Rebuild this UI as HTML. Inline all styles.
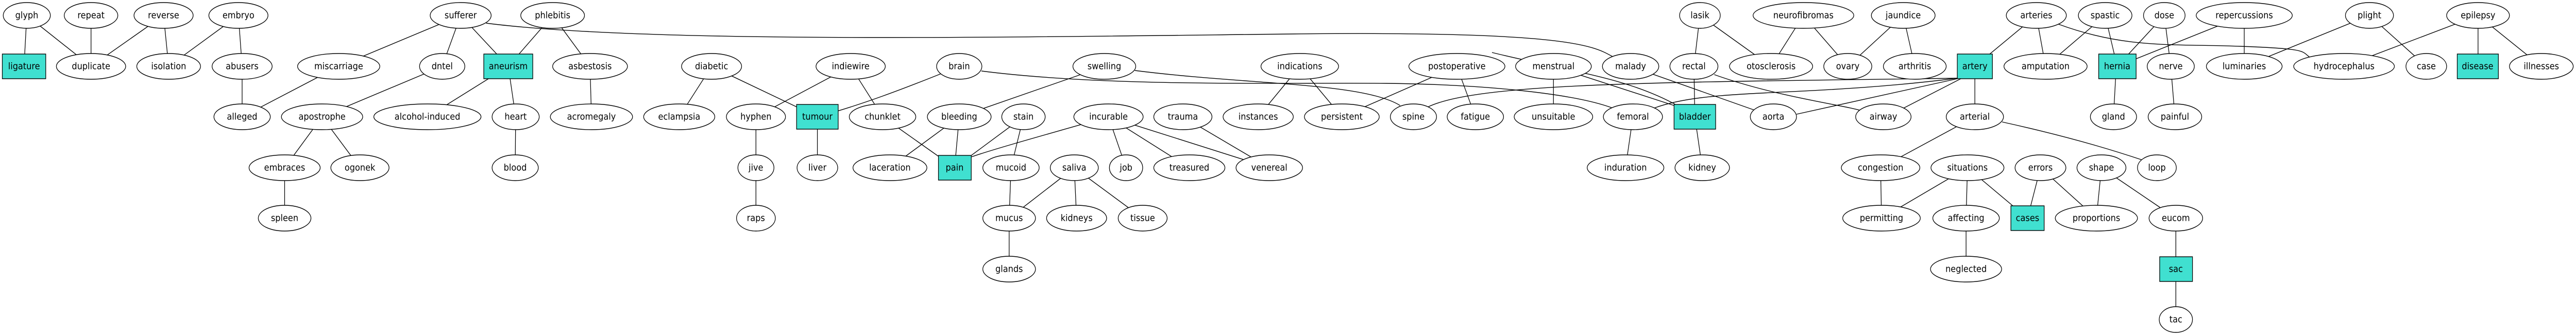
<!DOCTYPE html>
<html><head><meta charset="utf-8"><style>
html,body{margin:0;padding:0;background:#fff;width:100%;height:100%;overflow:hidden;}
svg{display:block;width:100vw;height:100vh;}
text{font-family:"DejaVu Sans","Liberation Sans",sans-serif;font-size:18px;text-anchor:middle;dominant-baseline:central;fill:#000;}
.e{stroke:#000;stroke-width:1.4;fill:none;}
ellipse{fill:#fff;stroke:#000;stroke-width:1.4;}
rect{fill:#40e0d0;stroke:#000;stroke-width:1.4;}
</style></head><body>
<svg viewBox="0 0 5575 653" preserveAspectRatio="none" xmlns="http://www.w3.org/2000/svg">
<g class="e">
<line x1="58" y1="30" x2="52" y2="129"/>
<line x1="58" y1="30" x2="197" y2="129"/>
<line x1="197" y1="30" x2="197" y2="129"/>
<line x1="354" y1="30" x2="197" y2="129"/>
<line x1="354" y1="30" x2="365" y2="129"/>
<line x1="516" y1="30" x2="365" y2="129"/>
<line x1="516" y1="30" x2="524" y2="129"/>
<line x1="524" y1="129" x2="524" y2="227"/>
<line x1="733" y1="129" x2="524" y2="227"/>
<line x1="997" y1="30" x2="733" y2="129"/>
<line x1="997" y1="30" x2="957" y2="129"/>
<line x1="997" y1="30" x2="1100" y2="129"/>
<path d="M1052,45 C1400,85 2200,72 2800,66 S3450,90 3490,110"/>
<line x1="957" y1="129" x2="697" y2="227"/>
<line x1="697" y1="227" x2="616" y2="326"/>
<line x1="697" y1="227" x2="779" y2="326"/>
<line x1="616" y1="326" x2="616" y2="424"/>
<line x1="1100" y1="129" x2="925" y2="227"/>
<line x1="1100" y1="129" x2="1116" y2="227"/>
<line x1="1116" y1="227" x2="1115" y2="326"/>
<line x1="1196" y1="30" x2="1100" y2="129"/>
<line x1="1196" y1="30" x2="1277" y2="129"/>
<line x1="1277" y1="129" x2="1280" y2="227"/>
<line x1="1540" y1="129" x2="1470" y2="227"/>
<line x1="1540" y1="129" x2="1769" y2="227"/>
<line x1="1841" y1="129" x2="1636" y2="227"/>
<line x1="1841" y1="129" x2="1910" y2="227"/>
<path d="M2076,129 C1950,175 1860,205 1769,227"/>
<path d="M2124,138 C2400,170 2800,160 3000,162 S3400,180 3490,210"/>
<line x1="1636" y1="227" x2="1636" y2="326"/>
<line x1="1636" y1="326" x2="1636" y2="424"/>
<line x1="1769" y1="227" x2="1769" y2="326"/>
<line x1="1910" y1="227" x2="2066" y2="326"/>
<line x1="2076" y1="227" x2="1926" y2="326"/>
<line x1="2076" y1="227" x2="2066" y2="326"/>
<line x1="2215" y1="227" x2="2066" y2="326"/>
<line x1="2215" y1="227" x2="2188" y2="326"/>
<path d="M2399,227 C2250,265 2150,290 2102,305"/>
<line x1="2390" y1="129" x2="2076" y2="227"/>
<path d="M2456,137 C2700,165 2950,160 3030,205"/>
<line x1="2188" y1="326" x2="2184" y2="424"/>
<line x1="2184" y1="424" x2="2184" y2="523"/>
<line x1="2325" y1="326" x2="2184" y2="424"/>
<line x1="2325" y1="326" x2="2330" y2="424"/>
<line x1="2325" y1="326" x2="2473" y2="424"/>
<line x1="2399" y1="227" x2="2437" y2="326"/>
<line x1="2399" y1="227" x2="2574" y2="326"/>
<line x1="2399" y1="227" x2="2747" y2="326"/>
<line x1="2560" y1="227" x2="2747" y2="326"/>
<line x1="2813" y1="129" x2="2723" y2="227"/>
<line x1="2813" y1="129" x2="2904" y2="227"/>
<line x1="3153" y1="129" x2="2904" y2="227"/>
<line x1="3153" y1="129" x2="3193" y2="227"/>
<path d="M3229,102 C3400,140 3520,150 3630,205"/>
<line x1="3362" y1="129" x2="3362" y2="227"/>
<line x1="3362" y1="129" x2="3640" y2="210"/>
<line x1="3529" y1="129" x2="3838" y2="227"/>
<line x1="3666" y1="129" x2="3668" y2="227"/>
<path d="M3710,145 C3850,190 4000,205 4035,217"/>
<line x1="3679" y1="30" x2="3666" y2="129"/>
<line x1="3679" y1="30" x2="3833" y2="129"/>
<line x1="3903" y1="30" x2="3833" y2="129"/>
<line x1="3903" y1="30" x2="3999" y2="129"/>
<line x1="4119" y1="30" x2="3999" y2="129"/>
<line x1="4119" y1="30" x2="4144" y2="129"/>
<path d="M3090,208 C3200,160 3600,160 4236,152"/>
<path d="M3580,210 C3700,170 3900,190 4236,152"/>
<line x1="3888" y1="222" x2="4236" y2="153"/>
<line x1="4120" y1="210" x2="4250" y2="150"/>
<line x1="4407" y1="30" x2="4274" y2="129"/>
<line x1="4407" y1="30" x2="4427" y2="129"/>
<path d="M4455,47 C4600,95 4700,85 4850,90 S4980,100 5000,112"/>
<line x1="4556" y1="30" x2="4427" y2="129"/>
<line x1="4556" y1="30" x2="4582" y2="129"/>
<line x1="4684" y1="30" x2="4582" y2="129"/>
<line x1="4684" y1="30" x2="4698" y2="129"/>
<line x1="4857" y1="30" x2="4582" y2="129"/>
<line x1="4857" y1="30" x2="4857" y2="129"/>
<line x1="5128" y1="30" x2="4857" y2="129"/>
<line x1="5128" y1="30" x2="5251" y2="129"/>
<line x1="5363" y1="30" x2="5073" y2="129"/>
<line x1="5363" y1="30" x2="5363" y2="129"/>
<line x1="5363" y1="30" x2="5500" y2="129"/>
<line x1="4580" y1="129" x2="4574" y2="227"/>
<line x1="4698" y1="129" x2="4707" y2="227"/>
<line x1="4274" y1="129" x2="4274" y2="227"/>
<line x1="3534" y1="227" x2="3518" y2="326"/>
<line x1="3668" y1="227" x2="3684" y2="326"/>
<line x1="4274" y1="227" x2="4070" y2="326"/>
<path d="M4333,237 C4500,270 4600,300 4640,312"/>
<line x1="4070" y1="326" x2="4072" y2="424"/>
<line x1="4258" y1="326" x2="4072" y2="424"/>
<line x1="4258" y1="326" x2="4255" y2="424"/>
<line x1="4258" y1="326" x2="4388" y2="424"/>
<line x1="4416" y1="326" x2="4388" y2="424"/>
<line x1="4416" y1="326" x2="4537" y2="424"/>
<line x1="4548" y1="326" x2="4537" y2="424"/>
<line x1="4548" y1="326" x2="4709" y2="424"/>
<line x1="4255" y1="424" x2="4255" y2="523"/>
<line x1="4709" y1="424" x2="4709" y2="621"/>
</g>
<ellipse cx="58" cy="30" rx="51" ry="25"/><text x="58" y="30">glyph</text>
<ellipse cx="197" cy="30" rx="58" ry="25"/><text x="197" y="30">repeat</text>
<ellipse cx="354" cy="30" rx="64" ry="25"/><text x="354" y="30">reverse</text>
<ellipse cx="516" cy="30" rx="64" ry="25"/><text x="516" y="30">embryo</text>
<ellipse cx="997" cy="30" rx="66" ry="25"/><text x="997" y="30">sufferer</text>
<ellipse cx="1196" cy="30" rx="69" ry="25"/><text x="1196" y="30">phlebitis</text>
<ellipse cx="3679" cy="30" rx="44" ry="25"/><text x="3679" y="30">lasik</text>
<ellipse cx="3903" cy="30" rx="109" ry="25"/><text x="3903" y="30">neurofibromas</text>
<ellipse cx="4119" cy="30" rx="69" ry="25"/><text x="4119" y="30">jaundice</text>
<ellipse cx="4407" cy="30" rx="65" ry="25"/><text x="4407" y="30">arteries</text>
<ellipse cx="4556" cy="30" rx="58" ry="25"/><text x="4556" y="30">spastic</text>
<ellipse cx="4684" cy="30" rx="45" ry="25"/><text x="4684" y="30">dose</text>
<ellipse cx="4857" cy="30" rx="104" ry="25"/><text x="4857" y="30">repercussions</text>
<ellipse cx="5128" cy="30" rx="52" ry="25"/><text x="5128" y="30">plight</text>
<ellipse cx="5363" cy="30" rx="68" ry="25"/><text x="5363" y="30">epilepsy</text>
<rect x="5" y="105" width="94" height="48"/><text x="52" y="129">ligature</text>
<ellipse cx="197" cy="129" rx="75" ry="25"/><text x="197" y="129">duplicate</text>
<ellipse cx="365" cy="129" rx="69" ry="25"/><text x="365" y="129">isolation</text>
<ellipse cx="524" cy="129" rx="65" ry="25"/><text x="524" y="129">abusers</text>
<ellipse cx="733" cy="129" rx="89" ry="25"/><text x="733" y="129">miscarriage</text>
<ellipse cx="957" cy="129" rx="49" ry="25"/><text x="957" y="129">dntel</text>
<rect x="1047" y="105" width="106" height="48"/><text x="1100" y="129">aneurism</text>
<ellipse cx="1277" cy="129" rx="81" ry="25"/><text x="1277" y="129">asbestosis</text>
<ellipse cx="1540" cy="129" rx="65" ry="25"/><text x="1540" y="129">diabetic</text>
<ellipse cx="1841" cy="129" rx="75" ry="25"/><text x="1841" y="129">indiewire</text>
<ellipse cx="2076" cy="129" rx="49" ry="25"/><text x="2076" y="129">brain</text>
<ellipse cx="2390" cy="129" rx="68" ry="25"/><text x="2390" y="129">swelling</text>
<ellipse cx="2813" cy="129" rx="84" ry="25"/><text x="2813" y="129">indications</text>
<ellipse cx="3153" cy="129" rx="104" ry="25"/><text x="3153" y="129">postoperative</text>
<ellipse cx="3362" cy="129" rx="82" ry="25"/><text x="3362" y="129">menstrual</text>
<ellipse cx="3529" cy="129" rx="61" ry="25"/><text x="3529" y="129">malady</text>
<ellipse cx="3666" cy="129" rx="52" ry="25"/><text x="3666" y="129">rectal</text>
<ellipse cx="3833" cy="129" rx="90" ry="25"/><text x="3833" y="129">otosclerosis</text>
<ellipse cx="3999" cy="129" rx="52" ry="25"/><text x="3999" y="129">ovary</text>
<ellipse cx="4144" cy="129" rx="68" ry="25"/><text x="4144" y="129">arthritis</text>
<rect x="4236" y="105" width="76" height="48"/><text x="4274" y="129">artery</text>
<ellipse cx="4427" cy="129" rx="90" ry="25"/><text x="4427" y="129">amputation</text>
<rect x="4542" y="105" width="81" height="48"/><text x="4582" y="129">hernia</text>
<ellipse cx="4698" cy="129" rx="51" ry="25"/><text x="4698" y="129">nerve</text>
<ellipse cx="4857" cy="129" rx="82" ry="25"/><text x="4857" y="129">luminaries</text>
<ellipse cx="5073" cy="129" rx="109" ry="25"/><text x="5073" y="129">hydrocephalus</text>
<ellipse cx="5251" cy="129" rx="44" ry="25"/><text x="5251" y="129">case</text>
<rect x="5318" y="105" width="89" height="48"/><text x="5362" y="129">disease</text>
<ellipse cx="5500" cy="129" rx="69" ry="25"/><text x="5500" y="129">illnesses</text>
<ellipse cx="524" cy="227" rx="61" ry="25"/><text x="524" y="227">alleged</text>
<ellipse cx="697" cy="227" rx="88" ry="25"/><text x="697" y="227">apostrophe</text>
<ellipse cx="925" cy="227" rx="116" ry="25"/><text x="925" y="227">alcohol-induced</text>
<ellipse cx="1116" cy="227" rx="51" ry="25"/><text x="1116" y="227">heart</text>
<ellipse cx="1280" cy="227" rx="89" ry="25"/><text x="1280" y="227">acromegaly</text>
<ellipse cx="1470" cy="227" rx="77" ry="25"/><text x="1470" y="227">eclampsia</text>
<ellipse cx="1636" cy="227" rx="64" ry="25"/><text x="1636" y="227">hyphen</text>
<rect x="1724" y="203" width="90" height="48"/><text x="1769" y="227">tumour</text>
<ellipse cx="1910" cy="227" rx="72" ry="25"/><text x="1910" y="227">chunklet</text>
<ellipse cx="2076" cy="227" rx="69" ry="25"/><text x="2076" y="227">bleeding</text>
<ellipse cx="2215" cy="227" rx="47" ry="25"/><text x="2215" y="227">stain</text>
<ellipse cx="2399" cy="227" rx="75" ry="25"/><text x="2399" y="227">incurable</text>
<ellipse cx="2560" cy="227" rx="63" ry="25"/><text x="2560" y="227">trauma</text>
<ellipse cx="2723" cy="227" rx="76" ry="25"/><text x="2723" y="227">instances</text>
<ellipse cx="2904" cy="227" rx="81" ry="25"/><text x="2904" y="227">persistent</text>
<ellipse cx="3059" cy="227" rx="50" ry="25"/><text x="3059" y="227">spine</text>
<ellipse cx="3193" cy="227" rx="61" ry="25"/><text x="3193" y="227">fatigue</text>
<ellipse cx="3362" cy="227" rx="85" ry="25"/><text x="3362" y="227">unsuitable</text>
<ellipse cx="3534" cy="227" rx="64" ry="25"/><text x="3534" y="227">femoral</text>
<rect x="3623" y="203" width="90" height="48"/><text x="3668" y="227">bladder</text>
<ellipse cx="3838" cy="227" rx="50" ry="25"/><text x="3838" y="227">aorta</text>
<ellipse cx="4076" cy="227" rx="60" ry="25"/><text x="4076" y="227">airway</text>
<ellipse cx="4274" cy="227" rx="62" ry="25"/><text x="4274" y="227">arterial</text>
<ellipse cx="4574" cy="227" rx="50" ry="25"/><text x="4574" y="227">gland</text>
<ellipse cx="4707" cy="227" rx="58" ry="25"/><text x="4707" y="227">painful</text>
<ellipse cx="616" cy="326" rx="77" ry="25"/><text x="616" y="326">embraces</text>
<ellipse cx="779" cy="326" rx="63" ry="25"/><text x="779" y="326">ogonek</text>
<ellipse cx="1115" cy="326" rx="50" ry="25"/><text x="1115" y="326">blood</text>
<ellipse cx="1636" cy="326" rx="39" ry="25"/><text x="1636" y="326">jive</text>
<ellipse cx="1769" cy="326" rx="44" ry="25"/><text x="1769" y="326">liver</text>
<ellipse cx="1926" cy="326" rx="80" ry="25"/><text x="1926" y="326">laceration</text>
<rect x="2031" y="302" width="71" height="48"/><text x="2066" y="326">pain</text>
<ellipse cx="2188" cy="326" rx="61" ry="25"/><text x="2188" y="326">mucoid</text>
<ellipse cx="2325" cy="326" rx="52" ry="25"/><text x="2325" y="326">saliva</text>
<ellipse cx="2437" cy="326" rx="36" ry="25"/><text x="2437" y="326">job</text>
<ellipse cx="2574" cy="326" rx="77" ry="25"/><text x="2574" y="326">treasured</text>
<ellipse cx="2747" cy="326" rx="72" ry="25"/><text x="2747" y="326">venereal</text>
<ellipse cx="3518" cy="326" rx="83" ry="25"/><text x="3518" y="326">induration</text>
<ellipse cx="3684" cy="326" rx="59" ry="25"/><text x="3684" y="326">kidney</text>
<ellipse cx="4070" cy="326" rx="85" ry="25"/><text x="4070" y="326">congestion</text>
<ellipse cx="4258" cy="326" rx="79" ry="25"/><text x="4258" y="326">situations</text>
<ellipse cx="4416" cy="326" rx="55" ry="25"/><text x="4416" y="326">errors</text>
<ellipse cx="4548" cy="326" rx="53" ry="25"/><text x="4548" y="326">shape</text>
<ellipse cx="4668" cy="326" rx="42" ry="25"/><text x="4668" y="326">loop</text>
<ellipse cx="616" cy="424" rx="57" ry="25"/><text x="616" y="424">spleen</text>
<ellipse cx="1636" cy="424" rx="42" ry="25"/><text x="1636" y="424">raps</text>
<ellipse cx="2184" cy="424" rx="57" ry="25"/><text x="2184" y="424">mucus</text>
<ellipse cx="2330" cy="424" rx="65" ry="25"/><text x="2330" y="424">kidneys</text>
<ellipse cx="2473" cy="424" rx="53" ry="25"/><text x="2473" y="424">tissue</text>
<ellipse cx="4072" cy="424" rx="84" ry="25"/><text x="4072" y="424">permitting</text>
<ellipse cx="4255" cy="424" rx="72" ry="25"/><text x="4255" y="424">affecting</text>
<rect x="4352" y="400" width="72" height="48"/><text x="4388" y="424">cases</text>
<ellipse cx="4537" cy="424" rx="89" ry="25"/><text x="4537" y="424">proportions</text>
<ellipse cx="4709" cy="424" rx="58" ry="25"/><text x="4709" y="424">eucom</text>
<ellipse cx="2184" cy="523" rx="57" ry="25"/><text x="2184" y="523">glands</text>
<ellipse cx="4255" cy="523" rx="77" ry="25"/><text x="4255" y="523">neglected</text>
<rect x="4674" y="499" width="71" height="48"/><text x="4709" y="523">sac</text>
<ellipse cx="4709" cy="621" rx="36" ry="25"/><text x="4709" y="621">tac</text>
</svg>
</body></html>
